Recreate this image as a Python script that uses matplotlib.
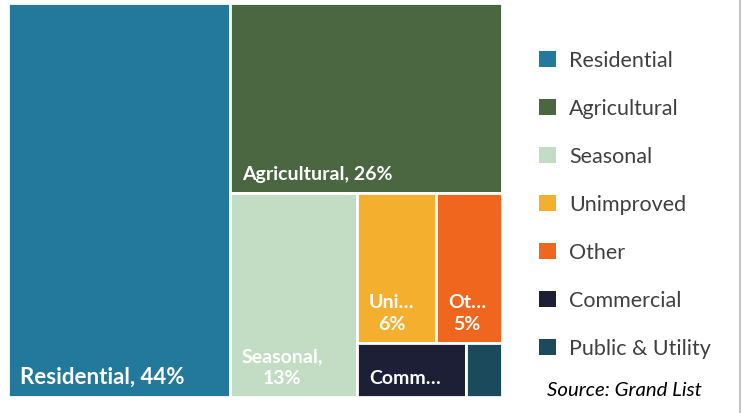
import matplotlib.pyplot as plt
from matplotlib.patches import Rectangle
from matplotlib.lines import Line2D

# share of grand list value by category (percent)
categories = ["Residential", "Agricultural", "Seasonal", "Unimproved",
              "Other", "Commercial", "Public & Utility"]
shares = [44.8, 26.5, 13.3, 6.1, 5.1, 3.0, 1.0]
# text shown inside the boxes (long names are cut off in the original)
box_names = ["Residential", "Agricultural", "Seasonal", "Uni…", "Ot…", "Comm…", ""]
show_pct = [True, True, True, True, True, False, False]
two_line = [False, False, True, True, True, False, False]
label_sizes = [16, 14, 14, 14, 14, 14, 14]
colors = ["#23799c", "#4a6741", "#c3dcc4", "#f4af2f",
          "#f0661f", "#1c1f36", "#1b4a5d"]
# how many boxes go in each strip of the treemap
strips = [1, 1, 1, 2, 1, 1]


def layout_strips(sizes, groups, x, y, dx, dy):
    # lay each group along the short side of what is left
    rects = []
    i = 0
    for n in groups:
        row = sizes[i:i + n]
        i += n
        s = sum(row)
        if dx >= dy:
            w = s / dy
            yy = y
            for r in row:
                rects.append((x, yy, w, r / w))
                yy += r / w
            x, dx = x + w, dx - w
        else:
            h = s / dx
            xx = x
            for r in row:
                rects.append((xx, y, r / h, h))
                xx += r / h
            y, dy = y + h, dy - h
    return rects


W, H = 494.0, 394.0
total = sum(shares)
sizes = [v / total * W * H for v in shares]
rects = layout_strips(sizes, strips, 0, 0, W, H)

fig = plt.figure(figsize=(7.42, 4.14), dpi=100)
ax = fig.add_axes([8 / 742, 16 / 414, W / 742, H / 414])
ax.set_xlim(0, W)
ax.set_ylim(H, 0)
ax.axis("off")

font = "Lato"
for (x, y, w, h), c, name, pc, two, fs, v in zip(rects, colors, box_names, show_pct,
                                                 two_line, label_sizes, shares):
    ax.add_patch(Rectangle((x, y), w, h, facecolor=c, edgecolor="white", linewidth=2))
    if not name:
        continue
    pct = f"{int(v)}%"
    if not pc:
        txt = name
    elif name == "Seasonal":
        txt = f"{name},\n{pct}"
    elif two:
        txt = f"{name}\n{pct}"
    else:
        txt = f"{name}, {pct}"
    ax.text(x + 12, y + h - 14, txt, color="white", fontsize=fs, fontweight="bold",
            family=font, ha="left", va="baseline", multialignment="center",
            linespacing=1.35)

# legend
handles = [Rectangle((0, 0), 1, 1, facecolor=c, edgecolor="none") for c in colors]
leg = fig.legend(handles, categories, loc="upper left",
                 bbox_to_anchor=(520 / 742, 1 - 32 / 414),
                 frameon=False, handlelength=0.79, handleheight=0.74, handletextpad=0.58,
                 labelspacing=1.3, prop={"family": font, "size": 15.5})
for t in leg.get_texts():
    t.set_color("#404040")

fig.text(624 / 742, 1 - 391 / 414, "Source: Grand List", ha="center", va="center",
         fontsize=14.7, style="italic", family=font, color="black")

fig.add_artist(Line2D([740 / 742, 740 / 742], [0, 1], color="#b8b8b8", linewidth=1.2))

fig.savefig("out.png", dpi=100)
